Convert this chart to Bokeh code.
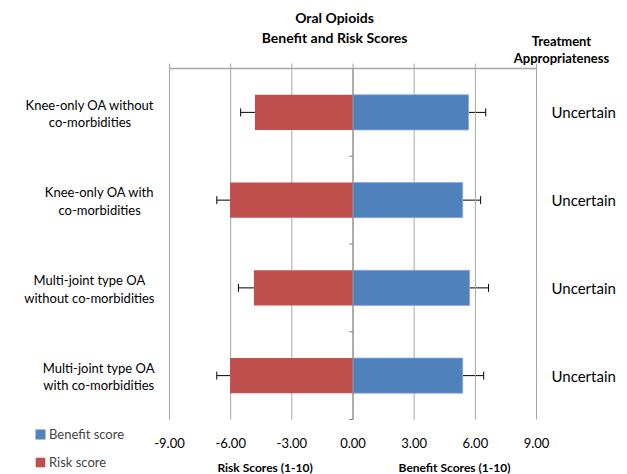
import math
from bokeh.plotting import figure
from bokeh.models import (ColumnDataSource, Range1d, Whisker, TeeHead, Label, LabelSet,
                          Legend, LegendItem)
from bokeh.embed import file_html
from bokeh.resources import INLINE
from bokeh.core.properties import value

# ---- data -------------------------------------------------------------
categories = ["Knee-only OA without\nco-morbidities",
              "Knee-only OA with\nco-morbidities",
              "Multi-joint type OA\nwithout co-morbidities",
              "Multi-joint type OA\nwith co-morbidities"]
benefit = [5.67, 5.38, 5.72, 5.38]
benefit_err = [0.84, 0.88, 0.93, 1.03]
risk = [4.81, 6.03, 4.86, 6.03]
risk_err = [0.70, 0.65, 0.76, 0.65]
appropriateness = ["Uncertain", "Uncertain", "Uncertain", "Uncertain"]
x_ticks = [-9, -6, -3, 0, 3, 6, 9]
x_tick_labels = ["-9.00", "-6.00", "-3.00", "0.00", "3.00", "6.00", "9.00"]

# ---- layout constants (pixels) -----------------------------------------
W, H = 627, 474
PL, PR, PT, PB = 169, 536, 68, 419      # plotting area of the chart
FONT = "Lato"
BLUE = "#4F81BD"
RED = "#C0504D"
GRID = "#A6A6A6"
AXIS = "#868686"

n = len(categories)
kx = (PR - PL) / (x_ticks[-1] - x_ticks[0])
ky = (PB - PT) / n
x_range = Range1d(x_ticks[0] - PL / kx, x_ticks[-1] + (W - PR) / kx)
y_range = Range1d(-(H - PB) / ky, n + PT / ky)

ypos = [n - i - 0.5 for i in range(n)]
src = ColumnDataSource(dict(
    y=ypos, cat=categories, appr=appropriateness,
    benefit=benefit,
    b_hi=[b + e for b, e in zip(benefit, benefit_err)],
    risk_neg=[-r for r in risk],
    r_lo=[-(r + e) for r, e in zip(risk, risk_err)],
))

p = figure(width=W, height=H, x_range=x_range, y_range=y_range,
           output_backend="svg", toolbar_location=None,
           x_axis_location=None, y_axis_location=None,
           min_border=0)
p.outline_line_color = None
p.grid.visible = False
p.background_fill_color = "white"
p.border_fill_color = "white"

# vertical gridlines
p.segment(x0=x_ticks, y0=[0] * len(x_ticks), x1=x_ticks, y1=[n] * len(x_ticks),
          line_color=GRID, line_width=1)
# top axis line with upward ticks
p.segment(x0=[x_ticks[0]], y0=[n], x1=[x_ticks[-1]], y1=[n], line_color=GRID, line_width=1.5)
p.ray(x=x_ticks, y=[n] * len(x_ticks), length=5, length_units="screen",
      angle=math.pi / 2, line_color=GRID, line_width=1)

# bars
rb = p.hbar(y="y", left="risk_neg", right=0, height=0.4, source=src,
            fill_color=RED, line_color=None)
bb = p.hbar(y="y", left=0, right="benefit", height=0.4, source=src,
            fill_color=BLUE, line_color="#8EAADB", line_width=0.8)

# zero axis with category-boundary ticks
p.segment(x0=[0], y0=[0], x1=[0], y1=[n], line_color=AXIS, line_width=1)
p.ray(x=[0] * n, y=list(range(n)), length=4, length_units="screen",
      angle=math.pi, line_color=AXIS, line_width=1)

# error bars (outer side only)
p.add_layout(Whisker(source=src, base="y", lower="benefit", upper="b_hi",
                     dimension="width", line_color="black", line_width=1,
                     lower_head=None,
                     upper_head=TeeHead(size=8, line_color="black", line_width=1)))
p.add_layout(Whisker(source=src, base="y", lower="r_lo", upper="risk_neg",
                     dimension="width", line_color="black", line_width=1,
                     upper_head=None,
                     lower_head=TeeHead(size=8, line_color="black", line_width=1)))

# x tick labels
tick_src = ColumnDataSource(dict(x=x_ticks, y=[0] * len(x_ticks), t=x_tick_labels))
p.add_layout(LabelSet(x="x", y="y", text="t", source=tick_src, y_offset=-23,
                      text_align="center", text_baseline="middle",
                      text_font=value(FONT), text_font_size=value("13px"),
                      text_color="black"))

# category labels (right-aligned block, centred lines)
for yy, c in zip(ypos, categories):
    p.add_layout(Label(x=x_ticks[0], y=yy, x_offset=-15, y_offset=-1, text=c,
                       anchor="center_right", text_align="center", text_baseline="middle",
                       text_font=FONT, text_font_size="13px", text_color="black",
                       text_line_height=1.1))

# appropriateness labels
p.add_layout(LabelSet(x=x_ticks[-1], y="y", x_offset=15, text="appr", source=src,
                      text_align="left", text_baseline="middle",
                      text_font=value(FONT), text_font_size=value("15px"),
                      text_color="black"))

# titles (screen units from the bottom-left of the canvas)
def add_text(txt, sx, sy, size, bold=True):
    p.add_layout(Label(x=sx, y=H - sy, x_units="screen", y_units="screen", text=txt,
                       text_align="center", text_baseline="middle",
                       text_font=FONT, text_font_size=size,
                       text_font_style="bold" if bold else "normal", text_color="black"))

add_text("Oral Opioids", 334, 17, "14px")
add_text("Benefit and Risk Scores", 334, 37, "14px")
add_text("Treatment", 561, 40, "13px")
add_text("Appropriateness", 561, 57, "13px")
add_text("Risk  Scores (1-10)", 266, 467, "12px")
add_text("Benefit Scores (1-10)", 454, 467, "12px")

# legend
legend = Legend(items=[LegendItem(label="Benefit score", renderers=[bb]),
                       LegendItem(label="Risk score", renderers=[rb])],
                location=(34, 4), orientation="vertical", padding=0, margin=0,
                spacing=12, glyph_width=12, glyph_height=12, label_height=12,
                label_standoff=3, label_text_font=FONT, label_text_font_size="13px",
                border_line_color=None, background_fill_alpha=0)
p.add_layout(legend)

open("out.html", "w").write(file_html(p, INLINE))
